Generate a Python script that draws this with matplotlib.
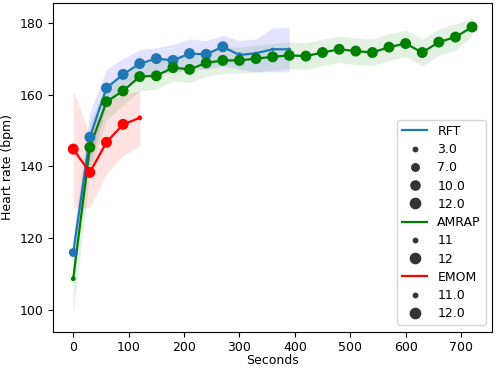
import numpy as np
import matplotlib
matplotlib.use('Agg')
import matplotlib.pyplot as plt
from matplotlib.lines import Line2D

# RFT
rft_t = [0, 30, 60, 90, 120, 150, 180, 210, 240, 270, 300, 330, 360, 390]
rft_hr = [116, 148.1, 161.8, 165.6, 168.6, 170, 169.5, 171.4, 171.2, 173.3, 171.0, 171.5, 172.6, 172.6]
rft_lo = [111, 141, 157, 161, 164.5, 166, 166, 167, 167, 168, 167, 166.3, 166.3, 166.3]
rft_hi = [121, 155, 167, 170, 172.5, 173, 174, 175.5, 175, 176.5, 175, 175.5, 178.6, 178.6]
rft_n = [10, 12, 12, 12, 12, 12, 12, 12, 12, 12, 7, 3, 3, 3]

# AMRAP
amrap_t = [0, 30, 60, 90, 120, 150, 180, 210, 240, 270, 300, 330, 360, 390, 420,
           450, 480, 510, 540, 570, 600, 630, 660, 690, 720]
amrap_hr = [108.7, 145.3, 158, 161, 165, 165.2, 167.5, 167, 168.8, 169.5, 169.5, 170,
            170.5, 170.9, 170.7, 171.7, 172.6, 172.1, 171.7, 173.2, 174.2, 171.7, 174.6, 176, 178.8]
amrap_lo = [99, 138, 153, 157, 161, 161.5, 163.8, 163.3, 165, 165.8, 165.8, 166.3,
            166.8, 167.2, 167, 168, 168.9, 168.4, 168, 169.5, 170.5, 168, 170.9, 172.3, 176.3]
amrap_hi = [118, 152, 163, 165, 169, 169, 171.2, 170.7, 172.5, 173.2, 173.2, 173.7,
            174.2, 174.6, 174.4, 175.4, 176.3, 175.8, 175.4, 176.9, 177.9, 175.4, 178.3, 179.7, 181.2]
amrap_n = [11] + [12] * 24

# EMOM
emom_t = [0, 30, 60, 90, 120]
emom_hr = [144.8, 138.3, 146.7, 151.7, 153.5]
emom_lo = [128.5, 128.5, 138, 143, 145.7]
emom_hi = [161, 149, 158, 160, 161]
emom_n = [12, 12, 12, 12, 11]

plt.rcParams['font.size'] = 9
fig, ax = plt.subplots(figsize=(4.98, 3.7), dpi=100)
fig.subplots_adjust(left=0.107, right=0.988, top=0.992, bottom=0.104)

size_map = {3: 6, 7: 16, 10: 40, 11: 12, 12: 62}

groups = [
    (rft_t, rft_hr, rft_lo, rft_hi, rft_n, '#1f77b4', 'blue'),
    (amrap_t, amrap_hr, amrap_lo, amrap_hi, amrap_n, 'green', 'green'),
    (emom_t, emom_hr, emom_lo, emom_hi, emom_n, 'red', 'red'),
]
for t, hr, lo, hi, n, c, band in groups:
    ax.fill_between(t, lo, hi, color=band, alpha=0.11, linewidth=0)
    ax.plot(t, hr, color=c, linewidth=1.6)
    ax.scatter(t, hr, s=[size_map[k] for k in n], color=c, linewidths=0, zorder=3)

ax.set_xlim(-36, 756)
ax.set_ylim(94, 185.5)
ax.set_xticks(range(0, 701, 100))
ax.set_yticks(range(100, 181, 20))
ax.set_xlabel('Seconds', labelpad=0)
ax.set_ylabel('Heart rate (bpm)')

dot = '#333333'
def mk(ms):
    return Line2D([], [], linestyle='', marker='o', color=dot, markersize=ms)

handles = [Line2D([], [], color='#1f77b4', lw=1.6), mk(3.2), mk(5.4), mk(6.6), mk(7.4),
           Line2D([], [], color='green', lw=1.6), mk(3.2), mk(7.4),
           Line2D([], [], color='red', lw=1.6), mk(3.2), mk(7.4)]
labels = ['RFT', '3.0', '7.0', '10.0', '12.0', 'AMRAP', '11', '12', 'EMOM', '11.0', '12.0']
ax.legend(handles, labels, loc='lower right', fontsize=9, labelspacing=0.42)

plt.savefig('out.png')
